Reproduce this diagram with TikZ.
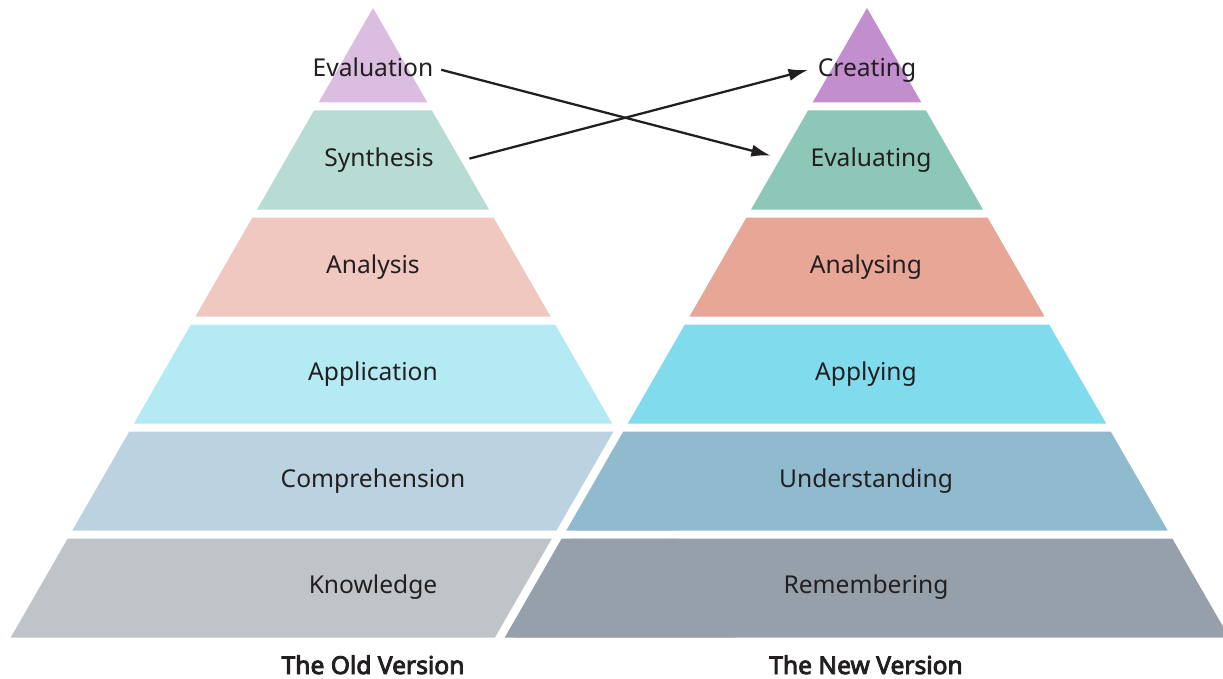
\documentclass[tikz,border=0pt]{standalone}
\usepackage{fontspec}
\setmainfont{Noto Sans}[AutoFakeBold=3.6]
\usetikzlibrary{arrows.meta, positioning, calc}
\definecolor{cText}{RGB}{35,31,32}
% old version colours
\definecolor{oA}{RGB}{220,189,226}
\definecolor{oB}{RGB}{183,220,211}
\definecolor{oC}{RGB}{241,200,191}
\definecolor{oD}{RGB}{180,234,244}
\definecolor{oE}{RGB}{187,211,225}
\definecolor{oF}{RGB}{190,196,200}
% new version colours
\definecolor{nA}{RGB}{194,142,206}
\definecolor{nB}{RGB}{140,199,184}
\definecolor{nC}{RGB}{232,166,151}
\definecolor{nD}{RGB}{128,220,236}
\definecolor{nE}{RGB}{144,186,206}
\definecolor{nF}{RGB}{150,160,170}

\begin{document}
\begin{tikzpicture}[x=0.02cm, y=-0.02cm, >={Latex[length=11pt, width=7pt]}, font=\fontsize{14}{17}\selectfont]

    \tikzstyle{lvl} = [text=cText, anchor=base, inner sep=2pt]
    \tikzstyle{heading} = [text=cText, anchor=base, inner sep=0pt, font=\fontsize{14}{17}\selectfont\bfseries]
    \tikzstyle{swap} = [->, line width=1.3pt, cText]

    \useasboundingbox (0,0) rectangle (1223,679);

    % Old pyramid (apex at x=373)
    \foreach \yt/\yb/\col in {8/102.5/oA, 110.5/209.5/oB, 217.5/316.5/oC, 324.5/423.5/oD, 431.5/530.5/oE, 538.5/637.5/oF}
        \fill[\col] ({373-0.5755*(\yt-8)},\yt) -- ({373+0.5755*(\yt-8)},\yt) -- ({373+0.5755*(\yb-8)},\yb) -- ({373-0.5755*(\yb-8)},\yb) -- cycle;

    % White gap along the left side of the new pyramid
    \draw[white, line width=9.5pt] (867,8) -- ({867-0.5755*657},665);

    % New pyramid (apex at x=867)
    \foreach \yt/\yb/\col in {8/102.5/nA, 110.5/209.5/nB, 217.5/316.5/nC, 324.5/423.5/nD, 431.5/530.5/nE, 538.5/637.5/nF}
        \fill[\col] ({867-0.5755*(\yt-8)},\yt) -- ({867+0.5755*(\yt-8)},\yt) -- ({867+0.5755*(\yb-8)},\yb) -- ({867-0.5755*(\yb-8)},\yb) -- cycle;

    % Old levels
    \node[lvl] (o1) at (373,77) {Evaluation};
    \node[lvl] (o2) at (379,166) {Synthesis};
    \node[lvl] (o3) at (373,273) {Analysis};
    \node[lvl] (o4) at (373,380) {Application};
    \node[lvl] (o5) at (373,487) {Comprehension};
    \node[lvl] (o6) at (373,593) {Knowledge};

    % New levels
    \node[lvl] (n1) at (867,77) {Creating};
    \node[lvl] (n2) at (871,166) {Evaluating};
    \node[lvl] (n3) at (866,273) {Analysing};
    \node[lvl] (n4) at (866,380) {Applying};
    \node[lvl] (n5) at (866,487) {Understanding};
    \node[lvl] (n6) at (866,593) {Remembering};

    % Titles
    \node[heading] (oldv) at (373,674) {The Old Version};
    \node[heading] (newv) at (866,674) {The New Version};

    % Swapped levels
    \draw[swap] ([shift={(4,2)}]o1.east) -- ([shift={(-36,-4)}]n2.west);
    \draw[swap] ([shift={(32,-1)}]o2.east) -- ([shift={(-6,-1)}]n1.west);
\end{tikzpicture}
\end{document}
